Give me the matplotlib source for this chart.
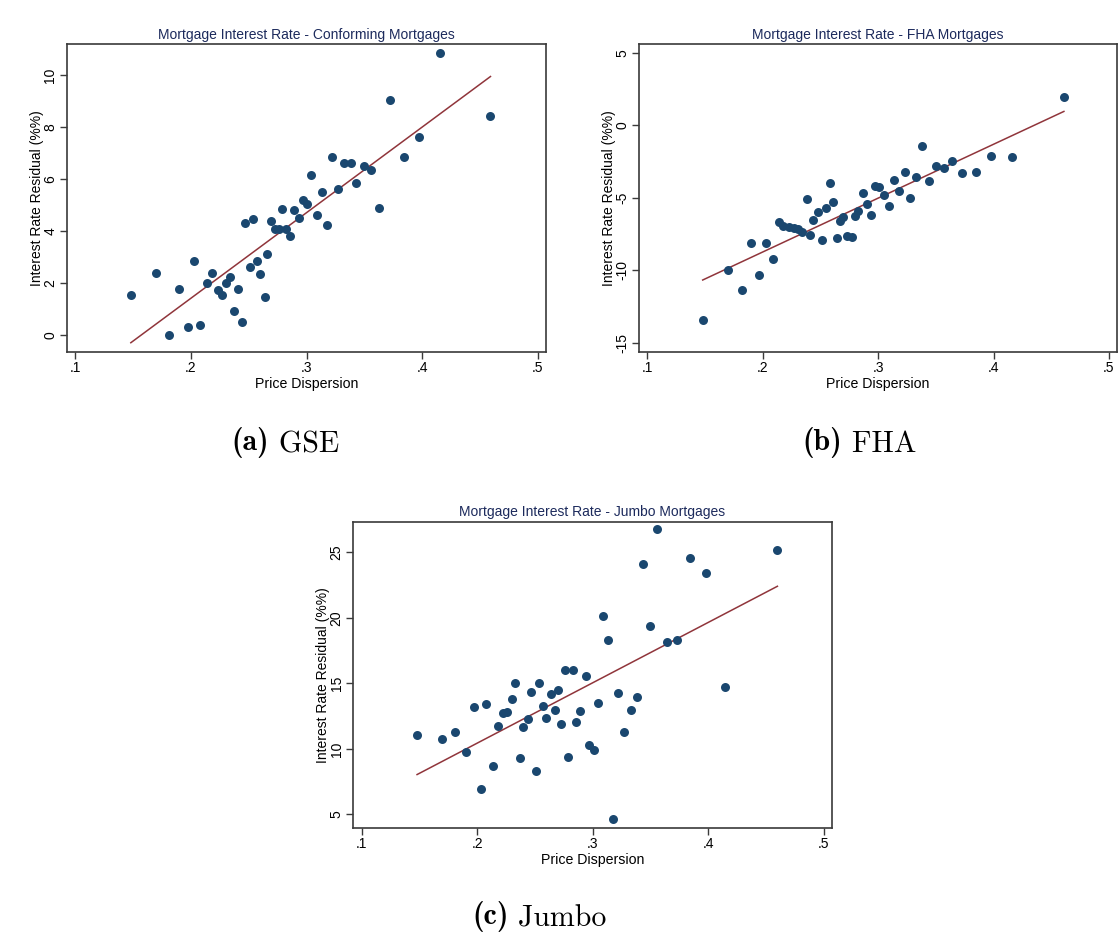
import numpy as np
import matplotlib
matplotlib.use("Agg")
import matplotlib.pyplot as plt
from matplotlib.text import Annotation

plt.rcParams["font.family"] = ["Liberation Sans", "DejaVu Sans"]

# ---- data ----
gse_x = [0.148, 0.170, 0.181, 0.190, 0.197, 0.203, 0.208, 0.214, 0.218, 0.223,
         0.227, 0.230, 0.234, 0.237, 0.241, 0.244, 0.247, 0.251, 0.254, 0.257,
         0.260, 0.264, 0.266, 0.269, 0.273, 0.276, 0.279, 0.282, 0.286, 0.289,
         0.293, 0.297, 0.300, 0.304, 0.309, 0.313, 0.318, 0.322, 0.327, 0.332,
         0.338, 0.343, 0.350, 0.356, 0.363, 0.372, 0.384, 0.397, 0.415, 0.459]
gse_y = [1.55, 2.41, 0.00, 1.77, 0.31, 2.87, 0.40, 2.02, 2.38, 1.73,
         1.55, 2.00, 2.23, 0.92, 1.78, 0.50, 4.32, 2.64, 4.47, 2.87,
         2.35, 1.49, 3.11, 4.41, 4.08, 4.08, 4.87, 4.09, 3.82, 4.83,
         4.52, 5.20, 5.05, 6.15, 4.62, 5.50, 4.24, 6.85, 5.64, 6.62,
         6.63, 5.87, 6.50, 6.35, 4.91, 9.04, 6.86, 7.64, 10.87, 8.42]

fha_x = [0.148, 0.170, 0.182, 0.190, 0.197, 0.203, 0.209, 0.214, 0.218, 0.223,
         0.227, 0.231, 0.234, 0.238, 0.241, 0.244, 0.248, 0.251, 0.255, 0.258,
         0.261, 0.264, 0.267, 0.270, 0.273, 0.277, 0.280, 0.283, 0.287, 0.290,
         0.294, 0.297, 0.301, 0.305, 0.309, 0.314, 0.318, 0.323, 0.328, 0.333,
         0.338, 0.344, 0.350, 0.357, 0.364, 0.373, 0.385, 0.398, 0.416, 0.461]
fha_y = [-13.43, -9.96, -11.36, -8.12, -10.34, -8.12, -9.24, -6.67, -6.94, -7.01,
         -7.08, -7.17, -7.36, -5.08, -7.57, -6.51, -5.96, -7.89, -5.72, -4.00,
         -5.27, -7.73, -6.62, -6.30, -7.59, -7.68, -6.23, -5.91, -4.69, -5.41,
         -6.19, -4.17, -4.23, -4.81, -5.57, -3.75, -4.51, -3.24, -5.03, -3.59,
         -1.45, -3.82, -2.79, -2.92, -2.44, -3.27, -3.22, -2.14, -2.21, 1.97]

jumbo_x = [0.148, 0.170, 0.181, 0.190, 0.197, 0.203, 0.208, 0.214, 0.218, 0.222,
           0.226, 0.230, 0.233, 0.237, 0.240, 0.244, 0.247, 0.251, 0.254, 0.257,
           0.260, 0.264, 0.267, 0.270, 0.273, 0.276, 0.279, 0.283, 0.286, 0.289,
           0.294, 0.297, 0.301, 0.305, 0.309, 0.313, 0.318, 0.322, 0.327, 0.333,
           0.338, 0.344, 0.350, 0.356, 0.364, 0.373, 0.384, 0.398, 0.415, 0.460]
jumbo_y = [11.03, 10.77, 11.26, 9.76, 13.17, 6.93, 13.42, 8.71, 11.76, 12.73,
           12.81, 13.78, 15.00, 9.27, 11.64, 12.30, 14.36, 8.28, 15.00, 13.24,
           12.35, 14.21, 12.99, 14.49, 11.92, 15.99, 9.39, 15.99, 12.05, 12.91,
           15.53, 10.29, 9.89, 13.52, 20.14, 18.33, 4.64, 14.24, 11.28, 12.96,
           13.93, 24.08, 19.35, 26.76, 18.13, 18.28, 24.59, 23.40, 14.69, 25.20]

titles = ["Mortgage Interest Rate - Conforming Mortgages",
          "Mortgage Interest Rate - FHA Mortgages",
          "Mortgage Interest Rate - Jumbo Mortgages"]
cap_tags = ["(a)", "(b)", "(c)"]
cap_names = ["GSE", "FHA", "Jumbo"]
xticks = [0.1, 0.2, 0.3, 0.4, 0.5]
xticklabels = [".1", ".2", ".3", ".4", ".5"]
yticks = [[0, 2, 4, 6, 8, 10], [5, 0, -5, -10, -15], [5, 10, 15, 20, 25]]

W, H = 1119, 940
fig = plt.figure(figsize=(W / 100, H / 100), dpi=100)

# axes boxes in pixels: left, top, right, bottom
boxes = [(67, 44.3, 546, 351.7), (639, 44.3, 1117, 351.7), (353.3, 521.7, 831.7, 827.7)]
ylims = [(-0.63, 11.19), (-15.6, 5.59), (3.98, 27.34)]
cap_left = [(231, 443), (802, 443), (472, 917)]

navy = "#1a476f"
maroon = "#90353b"
spine_c = "#3a3a3a"

data = [(gse_x, gse_y), (fha_x, fha_y), (jumbo_x, jumbo_y)]

for i, (xs, ys) in enumerate(data):
    l, t, r, b = boxes[i]
    ax = fig.add_axes([l / W, 1 - b / H, (r - l) / W, (b - t) / H])
    xs = np.array(xs)
    ys = np.array(ys)
    ax.scatter(xs, ys, s=42, color=navy, linewidths=0, zorder=3)
    k, c0 = np.polyfit(xs, ys, 1)
    fx = np.array([xs.min(), xs.max()])
    ax.plot(fx, k * fx + c0, color=maroon, lw=1.1, zorder=2)

    ax.set_xlim(0.0928, 0.507)
    ax.set_ylim(*ylims[i])
    ax.set_xticks(xticks)
    ax.set_xticklabels(xticklabels)
    ax.set_yticks(yticks[i])
    ax.set_yticklabels([str(v) for v in yticks[i]], rotation=90, va="center")
    ax.tick_params(length=5, width=1, color=spine_c, labelsize=10, pad=2)
    for s in ax.spines.values():
        s.set_color(spine_c)
        s.set_linewidth(1.2)
    ax.set_xlabel("Price Dispersion", fontsize=10.2, labelpad=1)
    ax.set_ylabel("Interest Rate Residual (%%)", fontsize=10, labelpad=-0.6)
    ax.set_title(titles[i], fontsize=10, color="#1c2a5c", pad=4)

    # caption: bold tag followed by roman name (Computer Modern)
    cx, cy = cap_left[i]
    tag = fig.text(cx / W, 1 - cy / H, cap_tags[i], fontsize=21.5,
                   family="cmb10", ha="left", va="center")
    fig.add_artist(Annotation(" " + cap_names[i], xy=(1, 0), xycoords=tag,
                              fontsize=21.5, family="cmr10",
                              ha="left", va="bottom"))

fig.savefig("out.png", dpi=100, facecolor="white")
